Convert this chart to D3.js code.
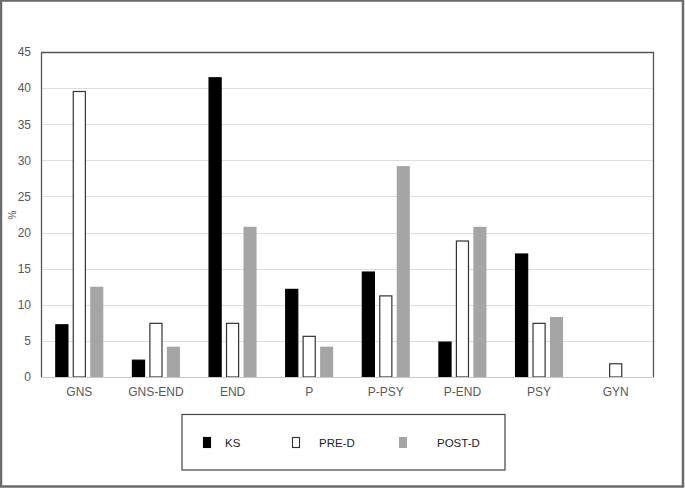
<!DOCTYPE html>
<html><head><meta charset="utf-8">
<script src="https://cdn.jsdelivr.net/npm/d3@7"></script>
<style>body{margin:0;background:#fff}svg{display:block}</style>
</head><body>
<svg id="c" width="685" height="488"></svg>
<script>
const categories = ["GNS","GNS-END","END","P","P-PSY","P-END","PSY","GYN"];
const seriesNames = ["KS","PRE-D","POST-D"];
const ks    = [7.3, 2.4, 41.5, 12.2, 14.6, 4.9, 17.1, 0];
const preD  = [39.6, 7.5, 7.5, 5.7, 11.3, 18.9, 7.5, 1.9];
const postD = [12.5, 4.2, 20.8, 4.2, 29.2, 20.8, 8.3, 0];
const yTicks = [0,5,10,15,20,25,30,35,40,45];

const seriesValues = [ks, preD, postD];
const fills = ["#000000","#ffffff","#a5a5a5"];
const strokes = ["#000000","#333333","none"];

const svg = d3.select("#c");
const W = 685, H = 488;
svg.append("rect").attr("x",1).attr("y",0.5).attr("width",W-3).attr("height",H-2)
  .attr("fill","#fff").attr("stroke","#6b6b6b").attr("stroke-width",2.5);

const L = 41, R = 654, T = 52, B = 377;
const x0 = d3.scaleBand().domain(categories).range([L,R]).paddingInner(0).paddingOuter(0);
const x1 = d3.scaleBand().domain(seriesNames).range([-24,24]).paddingInner(0.25).paddingOuter(0);
const y = d3.scaleLinear().domain([0,45]).range([B,T]);

// gridlines
svg.append("g").selectAll("line").data(yTicks.filter(d=>d>0 && d<45)).join("line")
  .attr("x1",L).attr("x2",R).attr("y1",d=>Math.round(y(d))+0.5).attr("y2",d=>Math.round(y(d))+0.5)
  .attr("stroke","#dedede").attr("stroke-width",1);

// bars
const g = svg.append("g");
categories.forEach((c,i)=>{
  const cx = x0(c) + x0.bandwidth()/2;
  seriesNames.forEach((s,j)=>{
    const v = seriesValues[j][i];
    if (v <= 0) return;
    const isOutline = strokes[j] !== "none";
    g.append("rect")
      .attr("x", cx + x1(s) + (isOutline?0.5:0))
      .attr("y", y(v) + (isOutline?0.5:0))
      .attr("width", x1.bandwidth() - (isOutline?1:0))
      .attr("height", y(0)-y(v) - (isOutline?0.5:0))
      .attr("fill", fills[j])
      .attr("stroke", strokes[j])
      .attr("stroke-width", isOutline?1.2:0);
  });
});

// frame
svg.append("line").attr("x1",L).attr("x2",R).attr("y1",B+0.5).attr("y2",B+0.5).attr("stroke","#c8c8c8");
svg.append("path").attr("d",`M${L+0.5},${B}V${T+0.5}H${R-0.5}V${B}`).attr("fill","none").attr("stroke","#555").attr("stroke-width",1.3);

// y axis labels
const yAxis = d3.axisLeft(y).tickValues(yTicks).tickSize(0).tickPadding(10);
const ya = svg.append("g").attr("transform",`translate(${L},0)`).call(yAxis);
ya.select(".domain").remove();
ya.selectAll("text").attr("font-family","Liberation Sans, Arial, sans-serif").attr("font-size",12).attr("fill","#595959");

svg.append("text").attr("transform",`translate(16,215) rotate(-90)`).attr("text-anchor","middle")
  .attr("font-family","Liberation Sans, Arial, sans-serif").attr("font-size",10).attr("fill","#595959").text("%");

// x axis labels
const xAxis = d3.axisBottom(x0).tickSize(0).tickPadding(10);
const xa = svg.append("g").attr("transform",`translate(0,${B})`).call(xAxis);
xa.select(".domain").remove();
xa.selectAll("text").attr("font-family","Liberation Sans, Arial, sans-serif").attr("font-size",12).attr("fill","#595959");

// legend
svg.append("rect").attr("x",182).attr("y",414.5).attr("width",323).attr("height",55.5)
  .attr("fill","#fff").attr("stroke","#444").attr("stroke-width",1.2);
const legX = [203, 292, 399];
const legTX = [225, 319, 437];
seriesNames.forEach((s,j)=>{
  const isOutline = strokes[j] !== "none";
  svg.append("rect").attr("x",legX[j]+(isOutline?0.5:0)).attr("y",437+(isOutline?0.5:0))
    .attr("width",8-(isOutline?1:0)).attr("height",11-(isOutline?1:0))
    .attr("fill",fills[j]).attr("stroke",strokes[j]).attr("stroke-width",isOutline?1.1:0);
  svg.append("text").attr("x",legTX[j]).attr("y",447).attr("font-family","Liberation Sans, Arial, sans-serif")
    .attr("font-size",11.5).attr("fill","#222").text(s);
});
</script>
</body></html>
